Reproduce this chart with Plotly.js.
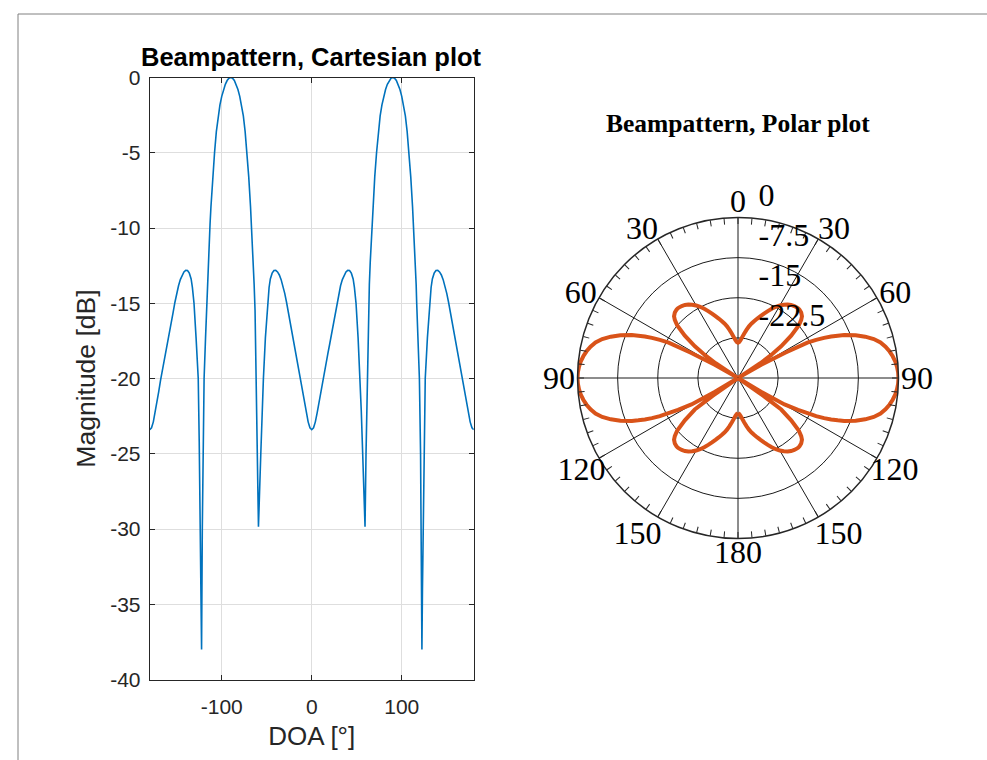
<!DOCTYPE html>
<html>
<head>
<meta charset="utf-8">
<script src="https://cdn.plot.ly/plotly-3.0.1.min.js"></script>
<style>html,body{margin:0;padding:0;background:#fff;}#chart{width:987px;height:760px;}</style>
</head>
<body>
<div id="chart"></div>
<script>
// ---- data ----
const doaDeg = [-180,-178,-176,-174,-172,-170,-168,-166,-164,-162,-160,-158,-156,-154,-152,-150,-148,-146,-144,-142,-140,-139,-138,-136,-134,-132.6,-130.8,-128.5,-126.1,-125,-124,-123,-122.4,-121.6,-120.9,-119.6,-118,-116.6,-116,-115,-114,-113,-112,-110,-108,-106,-104,-102,-100,-98,-96,-94,-92,-90,-88,-86,-84,-82,-80,-78,-76,-74,-72,-70,-68,-67,-66,-65,-64,-63,-61.8,-60.3,-59.2,-56.6,-55,-53.7,-51.5,-49.2,-47.4,-46,-44,-42,-41,-40,-38,-36,-34,-32,-30,-28,-26,-24,-22,-20,-18,-16,-14,-12,-10,-8,-6,-4,-2,
0,
2,4,6,8,10,12,14,16,18,20,22,24,26,28,30,32,34,36,38,40,41,42,44,46,47.4,49.2,51.5,53.7,55,56.6,59.2,60.3,61.8,63,64,65,66,67,68,70,72,74,76,78,80,82,84,86,88,90,92,94,96,98,100,102,104,106,108,110,112,113,114,115,116,116.6,118,119.6,120.9,121.6,122.4,123,124,125,126.1,128.5,130.8,132.6,134,136,138,139,140,142,144,146,148,150,152,154,156,158,160,162,164,166,168,170,172,174,176,178,180];

const magnitudeDb = [-23.40,-23.27,-22.88,-22.28,-21.60,-20.87,-20.12,-19.50,-18.92,-18.32,-17.69,-17.02,-16.31,-15.60,-14.93,-14.34,-13.84,-13.43,-13.12,-12.92,-12.81,-12.80,-12.82,-13.00,-13.38,-13.95,-15.00,-17.30,-20.00,-24.20,-29.50,-34.00,-38.00,-30.00,-25.00,-20.00,-17.30,-15.00,-13.75,-12.25,-10.95,-9.75,-8.60,-6.60,-5.00,-3.60,-2.55,-1.82,-1.25,-0.80,-0.45,-0.20,-0.05,0,-0.05,-0.20,-0.45,-0.80,-1.25,-1.82,-2.55,-3.60,-5.00,-6.60,-8.60,-9.75,-10.95,-12.25,-13.75,-15.45,-20.00,-25.00,-29.85,-25.00,-22.10,-20.00,-17.30,-15.00,-13.95,-13.38,-13.00,-12.82,-12.80,-12.81,-12.92,-13.12,-13.43,-13.84,-14.34,-14.93,-15.60,-16.31,-17.02,-17.69,-18.32,-18.92,-19.50,-20.12,-20.87,-21.60,-22.28,-22.88,-23.27,
-23.40,
-23.27,-22.88,-22.28,-21.60,-20.87,-20.12,-19.50,-18.92,-18.32,-17.69,-17.02,-16.31,-15.60,-14.93,-14.34,-13.84,-13.43,-13.12,-12.92,-12.81,-12.80,-12.82,-13.00,-13.38,-13.95,-15.00,-17.30,-20.00,-22.10,-25.00,-29.85,-25.00,-20.00,-15.45,-13.75,-12.25,-10.95,-9.75,-8.60,-6.60,-5.00,-3.60,-2.55,-1.82,-1.25,-0.80,-0.45,-0.20,-0.05,0,-0.05,-0.20,-0.45,-0.80,-1.25,-1.82,-2.55,-3.60,-5.00,-6.60,-8.60,-9.75,-10.95,-12.25,-13.75,-15.00,-17.30,-20.00,-25.00,-30.00,-38.00,-34.00,-29.50,-24.20,-20.00,-17.30,-15.00,-13.95,-13.38,-13.00,-12.82,-12.80,-12.81,-12.92,-13.12,-13.43,-13.84,-14.34,-14.93,-15.60,-16.31,-17.02,-17.69,-18.32,-18.92,-19.50,-20.12,-20.87,-21.60,-22.28,-22.88,-23.27,-23.40];

const xTickVals = [-100, 0, 100];
const xTickText = ['-100', '0', '100'];
const yTickVals = [-40, -35, -30, -25, -20, -15, -10, -5, 0];
const yTickText = ['-40', '-35', '-30', '-25', '-20', '-15', '-10', '-5', '0'];
const xRange = [-180, 180];
const yRange = [-40, 0];

const polarRadialRange = [-30, 0];
const polarRadialTickVals = [-22.5, -15, -7.5, 0];
const polarRadialTickText = ['-22.5', '-15', '-7.5', '0'];
const polarThetaTickVals = [0, 30, 60, 90, 120, 150, 180, 210, 240, 270, 300, 330];
const polarThetaTickText = ['0', '30', '60', '90', '120', '150', '180', '150', '120', '90', '60', '30'];
const polarMinorStep = 5;

const cartTitle = 'Beampattern, Cartesian plot';
const polarTitle = 'Beampattern, Polar plot';
const xLabel = 'DOA [°]';
const yLabel = 'Magnitude [dB]';

// ---- build ----
const polarR = magnitudeDb.map(v => Math.max(v, polarRadialRange[0]));
const minorTicks = [];
for (let a = 0; a < 360; a += polarMinorStep) minorTicks.push(a);

const sans = 'Liberation Sans, Arial, Helvetica, sans-serif';
const serif = 'Liberation Serif, Times New Roman, serif';
const axisCol = '#262626';

// polar geometry (pixels) -> paper domains
const W = 987, H = 760;
const pcx = 738, pcy = 378, pR = 160.5;
function polarDom(cx, cy, r) {
  return {x: [(cx - r) / W, (cx + r) / W], y: [(H - cy - r) / H, (H - cy + r) / H]};
}
const polarDomain = polarDom(pcx, pcy, pR);
const radLabelDomain = polarDom(pcx + 20, pcy - 22, pR);

// angular tick labels are split in three groups (top / sides / bottom), each drawn
// on a label-only overlay whose radius sets how close the labels sit to the rim
const labelGroups = [
  {inset: 1,  angles: [330, 0, 30]},
  {inset: -2, angles: [60, 90, 270, 300]},
  {inset: 8,  angles: [120, 150, 180, 210, 240]}
];

const traces = [
  {
    type: 'scatter', mode: 'lines', x: doaDeg, y: magnitudeDb,
    xaxis: 'x', yaxis: 'y',
    line: {color: '#0072BD', width: 1.6},
    hoverinfo: 'skip', showlegend: false
  },
  {
    type: 'scatterpolar', mode: 'lines', theta: doaDeg, r: polarR,
    thetaunit: 'degrees', subplot: 'polar',
    line: {color: '#D95319', width: 4},
    cliponaxis: false, hoverinfo: 'skip', showlegend: false
  },
  {type: 'scatterpolar', mode: 'lines', theta: [], r: [], subplot: 'polar2', hoverinfo: 'skip', showlegend: false},
  {type: 'scatterpolar', mode: 'lines', theta: [], r: [], subplot: 'polar3', hoverinfo: 'skip', showlegend: false}
];

const layout = {
  width: W, height: H,
  margin: {l: 0, r: 0, t: 0, b: 0},
  paper_bgcolor: '#ffffff', plot_bgcolor: '#ffffff',
  showlegend: false,
  xaxis: {
    domain: [0.1517, 0.4800], range: xRange,
    tickvals: xTickVals, ticktext: xTickText,
    ticks: 'inside', ticklen: 5, tickwidth: 1, tickcolor: axisCol,
    showline: true, linecolor: axisCol, linewidth: 1, mirror: 'ticks',
    showgrid: true, gridcolor: '#dedede', gridwidth: 1, zeroline: false,
    tickfont: {family: sans, size: 21, color: axisCol},
    ticklabelstandoff: 8,
    title: {text: xLabel, font: {family: sans, size: 26, color: axisCol}, standoff: 10}
  },
  yaxis: {
    domain: [0.1059, 0.8980], range: yRange,
    tickvals: yTickVals, ticktext: yTickText,
    ticks: 'inside', ticklen: 5, tickwidth: 1, tickcolor: axisCol,
    showline: true, linecolor: axisCol, linewidth: 1, mirror: 'ticks',
    showgrid: true, gridcolor: '#dedede', gridwidth: 1, zeroline: false,
    tickfont: {family: sans, size: 21, color: axisCol},
    ticklabelstandoff: 4,
    title: {text: yLabel, font: {family: sans, size: 26.5, color: axisCol}, standoff: 6}
  },
  polar: {
    domain: polarDomain,
    bgcolor: '#ffffff',
    angularaxis: {
      rotation: 90, direction: 'clockwise',
      tickmode: 'array', tickvals: polarThetaTickVals,
      ticks: '', showticklabels: false, showline: true, linecolor: axisCol, linewidth: 1.5,
      showgrid: true, gridcolor: '#1a1a1a', gridwidth: 1
    },
    radialaxis: {
      range: polarRadialRange, angle: 90,
      tickmode: 'array', tickvals: polarRadialTickVals,
      ticks: '', showticklabels: false, showline: false,
      showgrid: true, gridcolor: '#1a1a1a', gridwidth: 1
    }
  },
  polar2: {
    domain: polarDomain,
    bgcolor: 'rgba(0,0,0,0)',
    angularaxis: {
      rotation: 90, direction: 'clockwise',
      tickmode: 'array', tickvals: minorTicks,
      ticks: 'inside', ticklen: 6, tickwidth: 1, tickcolor: axisCol,
      showticklabels: false, showline: false, showgrid: false
    },
    radialaxis: {visible: false, range: polarRadialRange}
  },
  polar3: {
    domain: radLabelDomain,
    bgcolor: 'rgba(0,0,0,0)',
    angularaxis: {visible: false, rotation: 90, direction: 'clockwise', showgrid: false, showline: false, ticks: ''},
    radialaxis: {
      range: polarRadialRange, angle: 90, tickangle: 90, side: 'clockwise',
      tickmode: 'array', tickvals: polarRadialTickVals, ticktext: polarRadialTickText,
      ticks: '', showline: false, showgrid: false,
      tickfont: {family: serif, size: 32, color: '#000000'}
    }
  },
  annotations: [
    {text: '<b>' + cartTitle + '</b>', xref: 'paper', yref: 'paper',
     x: 0.3158, y: 1 - 57 / 760, xanchor: 'center', yanchor: 'middle', showarrow: false,
     font: {family: sans, size: 25.5, color: '#000000'}},
    {text: '<b>' + polarTitle + '</b>', xref: 'paper', yref: 'paper',
     x: 0.7477, y: 1 - 123 / 760, xanchor: 'center', yanchor: 'middle', showarrow: false,
     font: {family: serif, size: 25.5, color: '#000000'}}
  ],
  shapes: [
    {type: 'line', xref: 'paper', yref: 'paper', x0: 18 / 987, x1: 1, y0: 1 - 14 / 760, y1: 1 - 14 / 760,
     line: {color: '#808080', width: 1}},
    {type: 'line', xref: 'paper', yref: 'paper', x0: 18 / 987, x1: 18 / 987, y0: 0, y1: 1 - 14 / 760,
     line: {color: '#808080', width: 1}}
  ]
};

labelGroups.forEach((g, i) => {
  const name = 'polar' + (4 + i);
  const vals = [], texts = [];
  g.angles.forEach(a => {
    const k = polarThetaTickVals.indexOf(a);
    vals.push(polarThetaTickVals[k]);
    texts.push(polarThetaTickText[k]);
  });
  layout[name] = {
    domain: polarDom(pcx, pcy, pR - g.inset),
    bgcolor: 'rgba(0,0,0,0)',
    angularaxis: {
      rotation: 90, direction: 'clockwise',
      tickmode: 'array', tickvals: vals, ticktext: texts,
      ticks: '', showline: false, showgrid: false,
      tickfont: {family: serif, size: 32, color: '#000000'}
    },
    radialaxis: {visible: false, range: polarRadialRange}
  };
  traces.push({type: 'scatterpolar', mode: 'lines', theta: [], r: [], subplot: name, hoverinfo: 'skip', showlegend: false});
});

Plotly.newPlot('chart', traces, layout, {displayModeBar: false, staticPlot: true});
</script>
</body>
</html>
